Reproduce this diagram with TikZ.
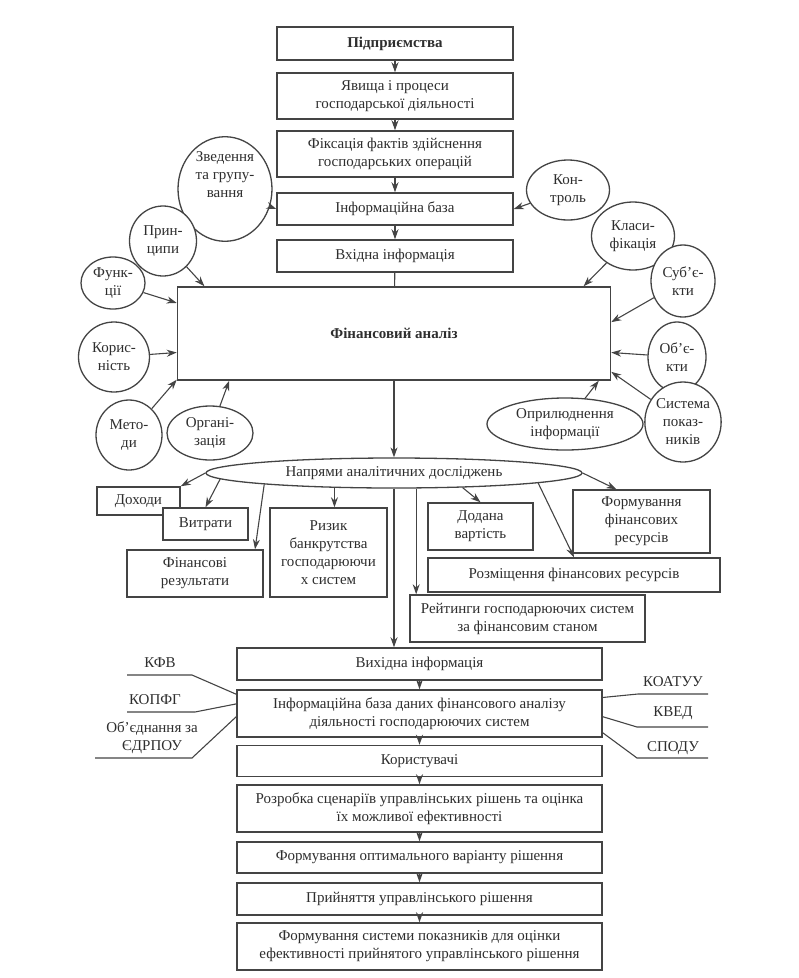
\documentclass[tikz,border=0pt]{standalone}
\usepackage{fontspec}
\setmainfont{Liberation Serif}
\usetikzlibrary{arrows.meta,shapes.geometric}
\definecolor{scanInk}{HTML}{2E2E2E}
\definecolor{scanLine}{HTML}{444444}
\newcommand{\diagfont}{\fontsize{15}{18}\selectfont}

\begin{document}
\begin{tikzpicture}[
  x=1pt, y=-1pt, font=\diagfont, text=scanInk,
  blk/.style={draw=scanLine, line width=1.5pt, fill=white, align=center, inner sep=1pt},
  elp/.style={ellipse, draw=scanLine, line width=1.3pt, fill=white, align=center, inner sep=0pt},
  arr/.style={-{Stealth[length=10pt,width=7pt]}, draw=scanLine, line width=1.1pt},
  ln/.style={draw=scanLine, line width=1.1pt},
  lbl/.style={inner sep=1pt, align=center}
]
\useasboundingbox (0,0) rectangle (799,978);

% ---- upper chain
\node[blk, minimum width=236pt, minimum height=33pt, font=\diagfont\bfseries] (pid) at (395,43.5) {Підприємства};
\node[blk, minimum width=236pt, minimum height=46pt] (yav) at (395,96) {Явища і процеси\\господарської діяльності};
\node[blk, minimum width=236pt, minimum height=46pt] (fix) at (395,154) {Фіксація фактів здійснення\\господарських операцій};
\node[blk, minimum width=236pt, minimum height=32pt] (ib)  at (395,209) {Інформаційна база};
\node[blk, minimum width=236pt, minimum height=32pt] (vkh) at (395,256) {Вхідна інформація};
\node[blk, minimum width=433pt, minimum height=93pt, font=\diagfont\bfseries] (fa) at (394,333.5) {Фінансовий аналіз};
\draw[arr] (pid) -- (yav);
\draw[arr] (yav) -- (fix);
\draw[arr] (fix) -- (ib);
\draw[arr] (ib)  -- (vkh);
\draw[ln]  (vkh) -- (fa);

% ---- left ellipses
\node[elp, minimum width=94pt, minimum height=102pt] (zv)  at (225,189) {Зведення\\та групу-\\вання\\[10pt]};
\node[elp, minimum width=67pt, minimum height=70pt]  (pr)  at (163,241) {Прин-\\ципи};
\node[elp, minimum width=64pt, minimum height=52pt]  (fu)  at (113,283) {Функ-\\ції};
\node[elp, minimum width=71pt, minimum height=70pt]  (ko)  at (114,357) {Корис-\\ність};
\node[elp, minimum width=66pt, minimum height=70pt]  (me)  at (129,435) {Мето-\\ди};
\node[elp, minimum width=86pt, minimum height=54pt]  (org) at (210,433) {Органі-\\зація};
\draw[arr] (zv)  -- (ib.west);
\draw[arr] (pr)  -- (fa.166);
\draw[arr] (fu)  -- (fa.172);
\draw[arr] (ko)  -- (fa.185);
\draw[arr] (me)  -- (fa.192.5);
\draw[arr] (org) -- (fa.196);

% ---- right ellipses
\node[elp, minimum width=83pt, minimum height=60pt]  (kn) at (568,190) {Кон-\\троль};
\node[elp, minimum width=83pt, minimum height=68pt]  (kl) at (633,236) {Класи-\\фікація};
\node[elp, minimum width=64pt, minimum height=72pt]  (su) at (683,281) {Суб’є-\\кти};
\node[elp, minimum width=58pt, minimum height=70pt]  (ob) at (677,357) {Об’є-\\кти};
\node[elp, minimum width=62pt, minimum height=80pt]  (sy) at (683,422) {Система\\показ-\\ників};
\node[elp, minimum width=156pt, minimum height=52pt] (op) at (565,424) {Оприлюднення\\інформації};
\draw[arr] (kn) -- (ib.east);
\draw[arr] (kl) -- (fa.14);
\draw[arr] (su) -- (fa.3);
\draw[arr] (ob) -- (fa.-5);
\draw[arr] (sy) -- (fa.-10);
\draw[arr] (op) -- (fa.-13);

% ---- research directions
\node[elp, minimum width=376pt, minimum height=30pt] (nap) at (394,473) {Напрями аналітичних досліджень};
\draw[arr] (fa) -- (nap);

\node[blk, minimum width=83pt,  minimum height=28pt] (dh) at (138.5,501) {Доходи};
\node[blk, minimum width=85pt,  minimum height=32pt] (vt) at (205.5,524) {Витрати};
\node[blk, minimum width=136pt, minimum height=47pt] (fr) at (195,573.5) {Фінансові\\результати};
\node[blk, minimum width=117pt, minimum height=89pt] (rz) at (328.5,552.5) {Ризик\\банкрутства\\господарюючи\\х систем};
\node[blk, minimum width=105pt, minimum height=47pt] (dv) at (480.5,526.5) {Додана\\вартість};
\node[blk, minimum width=137pt, minimum height=63pt] (ff) at (641.5,521.5) {Формування\\фінансових\\ресурсів};
\node[blk, minimum width=292pt, minimum height=34pt] (rm) at (574,575) {Розміщення фінансових ресурсів};
\node[blk, minimum width=235pt, minimum height=47pt] (rt) at (527.5,618.5) {Рейтинги господарюючих систем\\за фінансовим станом};

\draw[arr] (nap.west) -- (dh.north east);
\draw[arr] (nap.182)  -- (vt.north);
\draw[arr] (nap.185)  -- (fr.22);
\draw[arr] (nap.194)  -- (nap.194 |- rz.north);
\draw[arr] (nap.-12)  -- (dv.north);
\draw[arr] (nap.-4.5) -- (rm.north);
\draw[arr] (nap.east) -- (ff.128);
\draw[arr] (nap.-35)  -- (nap.-35 |- rt.north);

% ---- lower chain
\node[blk, minimum width=365pt, minimum height=32pt] (vyh) at (419.5,664)   {Вихідна інформація};
\node[blk, minimum width=365pt, minimum height=47pt] (ibd) at (419.5,713.5) {Інформаційна база даних фінансового аналізу\\діяльності господарюючих систем};
\node[blk, minimum width=365pt, minimum height=31pt] (kor) at (419.5,761)   {Користувачі};
\node[blk, minimum width=365pt, minimum height=47pt] (roz) at (419.5,808.5) {Розробка сценаріїв управлінських рішень та оцінка\\їх можливої ефективності};
\node[blk, minimum width=365pt, minimum height=31pt] (fov) at (419.5,857.5) {Формування оптимального варіанту рішення};
\node[blk, minimum width=365pt, minimum height=32pt] (pry) at (419.5,899)   {Прийняття управлінського рішення};
\node[blk, minimum width=365pt, minimum height=47pt] (fsp) at (419.5,946.5) {Формування системи показників для оцінки\\ефективності прийнятого управлінського рішення};
\draw[arr] (nap.south) -- (nap.south |- vyh.north);
\draw[arr] (vyh) -- (ibd);
\draw[arr] (ibd) -- (kor);
\draw[arr] (kor) -- (roz);
\draw[arr] (roz) -- (fov);
\draw[arr] (fov) -- (pry);
\draw[arr] (pry) -- (fsp);

% ---- classifiers
\coordinate (kfvL) at (127,675);
\coordinate (kopL) at (127,712);
\coordinate (edrL) at (95,758);
\coordinate (koaR) at (708,694);
\coordinate (kvdR) at (708,727);
\coordinate (spdR) at (708,758);
\draw[ln] (kfvL) -- ++(65,0) -- (ibd.174);
\draw[ln] (kopL) -- ++(68,0) -- (ibd.177);
\draw[ln] (edrL) -- ++(97,0) -- (ibd.181);
\draw[ln] (ibd.5)  -- (638,694) -- (koaR);
\draw[ln] (ibd.-1) -- (637,727) -- (kvdR);
\draw[ln] (ibd.-6) -- (637,758) -- (spdR);
\node[lbl] (kfv) at (160,663) {КФВ};
\node[lbl] (kop) at (155,700) {КОПФГ};
\node[lbl] (edr) at (152,738) {Об’єднання за\\ЄДРПОУ};
\node[lbl] (koa) at (673,682) {КОАТУУ};
\node[lbl] (kvd) at (673,713) {КВЕД};
\node[lbl] (spd) at (673,748) {СПОДУ};
\end{tikzpicture}
\end{document}
